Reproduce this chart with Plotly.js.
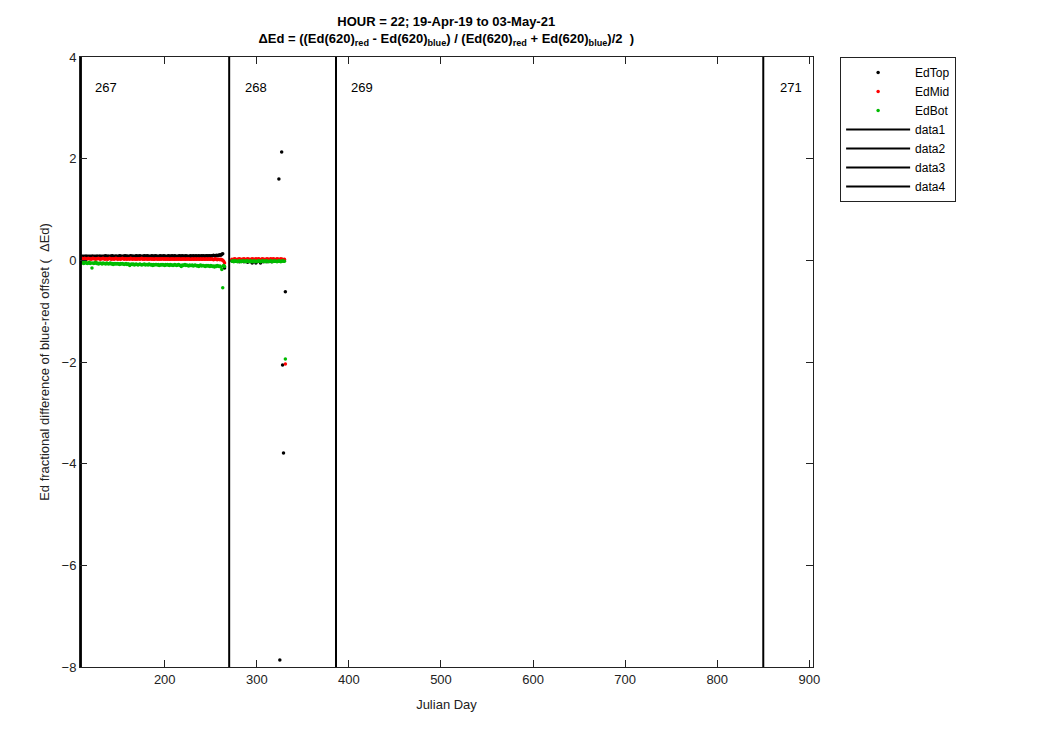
<!DOCTYPE html>
<html>
<head>
<meta charset="utf-8">
<script src="https://cdn.plot.ly/plotly-3.0.1.min.js"></script>
<style>html,body{margin:0;padding:0;background:#fff;}#chart{width:1050px;height:750px;}</style>
</head>
<body>
<div id="chart"></div>
<script>
// Segment 1 days (Julian day)
const days1 = [109,110,111,112,113,114,115,116,117,118,
119,120,121,122,123,124,125,126,127,128,
129,130,131,132,133,134,135,136,137,138,
139,140,141,142,143,144,145,146,147,148,
149,150,151,152,153,154,155,156,157,158,
159,160,161,162,163,164,165,166,167,168,
169,170,171,172,173,174,175,176,177,178,
179,180,181,182,183,184,185,186,187,188,
189,190,191,192,193,194,195,196,197,198,
199,200,201,202,203,204,205,206,207,208,
209,210,211,212,213,214,215,216,217,218,
219,220,221,222,223,224,225,226,227,228,
229,230,231,232,233,234,235,236,237,238,
239,240,241,242,243,244,245,246,247,248,
249,250,251,252,253,254,255,256,257,258,
259,260,261,262,263,264,265];
const days2 = [273,274,275,276,277,278,279,280,281,282,
283,284,285,286,287,288,289,290,291,292,
293,294,295,296,297,298,299,300,301,302,
303,304,305,306,307,308,309,310,311,312,
313,314,315,316,317,318,319,320,321,322,
323,324,325,326,327,328,329,330,331];

const edTop1 = [0.07,0.08,0.07,0.08,0.07,0.08,0.08,0.07,0.08,0.07,
0.08,0.07,0.08,0.08,0.07,0.08,0.07,0.08,0.08,0.07,
0.08,0.08,0.07,0.08,0.07,0.08,0.08,0.09,0.07,0.08,
0.08,0.07,0.08,0.08,0.09,0.08,0.07,0.08,0.08,0.08,
0.07,0.08,0.09,0.08,0.08,0.07,0.08,0.08,0.09,0.08,
0.08,0.08,0.07,0.08,0.09,0.08,0.08,0.08,0.07,0.08,
0.09,0.08,0.08,0.08,0.09,0.08,0.07,0.08,0.08,0.09,
0.08,0.08,0.09,0.08,0.08,0.07,0.08,0.09,0.08,0.08,
0.08,0.09,0.08,0.08,0.07,0.08,0.09,0.08,0.08,0.08,
0.09,0.08,0.08,0.07,0.08,0.09,0.08,0.08,0.08,0.09,
0.08,0.08,0.09,0.08,0.07,0.08,0.08,0.09,0.08,0.08,
0.09,0.08,0.08,0.08,0.09,0.08,0.08,0.07,0.08,0.09,
0.08,0.08,0.09,0.08,0.08,0.09,0.08,0.08,0.09,0.08,
0.08,0.09,0.08,0.09,0.08,0.08,0.09,0.09,0.08,0.09,
0.09,0.08,0.09,0.09,0.10,0.09,0.09,0.10,0.09,0.10,
0.10,0.11,0.10,0.12,0.13,-0.11,-0.15];
const edMid1 = [0.03,0.04,0.03,0.03,0.04,0.03,0.02,0.03,0.04,0.03,
0.03,0.02,0.03,0.04,0.03,0.03,0.02,0.03,0.03,0.04,
0.03,0.02,0.03,0.03,0.04,0.03,0.02,0.03,0.03,0.02,
0.03,0.04,0.03,0.02,0.03,0.03,0.02,0.03,0.04,0.03,
0.02,0.03,0.03,0.02,0.03,0.04,0.03,0.02,0.03,0.03,
0.02,0.03,0.03,0.02,0.04,0.03,0.02,0.03,0.03,0.02,
0.03,0.02,0.03,0.03,0.02,0.03,0.04,0.02,0.03,0.02,
0.03,0.03,0.02,0.03,0.02,0.03,0.03,0.02,0.03,0.02,
0.02,0.03,0.03,0.02,0.03,0.02,0.03,0.02,0.03,0.03,
0.02,0.03,0.02,0.03,0.02,0.03,0.02,0.02,0.03,0.02,
0.03,0.02,0.02,0.03,0.02,0.03,0.02,0.03,0.02,0.02,
0.03,0.02,0.03,0.02,0.02,0.03,0.02,0.03,0.02,0.02,
0.02,0.03,0.02,0.02,0.03,0.02,0.02,0.03,0.02,0.02,
0.03,0.02,0.02,0.03,0.02,0.02,0.03,0.02,0.02,0.03,
0.02,0.02,0.03,0.02,0.01,0.02,0.03,0.02,0.01,0.02,
0.02,0.01,0.02,0.01,0.00,-0.02,-0.05];
const edBot1 = [-0.04,-0.05,-0.04,-0.06,-0.05,-0.04,-0.05,-0.06,-0.05,-0.04,
-0.06,-0.05,-0.15,-0.05,-0.06,-0.05,-0.04,-0.06,-0.05,-0.07,
-0.06,-0.05,-0.06,-0.07,-0.05,-0.06,-0.06,-0.07,-0.05,-0.06,
-0.07,-0.06,-0.05,-0.07,-0.06,-0.08,-0.06,-0.07,-0.06,-0.07,
-0.06,-0.07,-0.08,-0.06,-0.07,-0.06,-0.07,-0.08,-0.07,-0.06,
-0.08,-0.07,-0.07,-0.10,-0.08,-0.07,-0.08,-0.07,-0.09,-0.08,
-0.07,-0.08,-0.09,-0.08,-0.07,-0.08,-0.09,-0.08,-0.08,-0.07,
-0.09,-0.08,-0.08,-0.09,-0.07,-0.08,-0.09,-0.08,-0.10,-0.08,
-0.09,-0.08,-0.08,-0.09,-0.08,-0.10,-0.09,-0.08,-0.09,-0.08,
-0.09,-0.10,-0.08,-0.09,-0.08,-0.09,-0.10,-0.08,-0.09,-0.09,
-0.10,-0.09,-0.08,-0.09,-0.10,-0.09,-0.08,-0.09,-0.10,-0.12,
-0.09,-0.10,-0.09,-0.08,-0.10,-0.09,-0.10,-0.11,-0.09,-0.10,
-0.10,-0.09,-0.11,-0.10,-0.09,-0.10,-0.11,-0.10,-0.12,-0.10,
-0.09,-0.11,-0.10,-0.10,-0.11,-0.12,-0.10,-0.11,-0.10,-0.11,
-0.12,-0.10,-0.11,-0.12,-0.11,-0.13,-0.11,-0.12,-0.10,-0.11,
-0.12,-0.11,-0.13,-0.18,-0.54,-0.10,-0.12];

const edTop2 = [-0.01,-0.02,-0.01,-0.02,-0.01,-0.02,-0.01,-0.02,-0.03,-0.01,
-0.02,-0.01,-0.02,-0.03,-0.02,-0.01,-0.02,-0.04,-0.02,-0.01,
-0.02,-0.03,-0.05,-0.02,-0.01,-0.02,-0.05,-0.03,-0.02,-0.01,
-0.02,-0.05,-0.02,-0.01,-0.03,-0.02,-0.01,-0.02,-0.03,-0.01,
-0.02,-0.01,-0.02,-0.03,-0.01,-0.02,-0.01,-0.02,-0.01,-0.02,
-0.01,1.60,-7.86,-0.02,2.13,-2.06,-3.79,-0.01,-0.62];
const edMid2 = [0.02,0.01,0.02,0.03,0.02,0.01,0.02,0.02,0.03,0.02,
0.01,0.02,0.02,0.03,0.02,0.01,0.02,0.03,0.02,0.02,
0.01,0.02,0.03,0.02,0.02,0.01,0.03,0.02,0.02,0.03,
0.02,0.01,0.02,0.03,0.02,0.02,0.01,0.02,0.03,0.02,
0.02,0.01,0.03,0.02,0.02,0.03,0.02,0.01,0.02,0.03,
0.02,0.02,0.01,0.03,0.02,0.02,0.01,0.02,-2.04];
const edBot2 = [-0.02,-0.01,-0.03,-0.02,-0.01,-0.02,-0.03,-0.02,-0.01,-0.02,
-0.03,-0.02,-0.01,-0.02,-0.02,-0.03,-0.01,-0.02,-0.02,-0.03,
-0.01,-0.02,-0.03,-0.02,-0.01,-0.02,-0.03,-0.02,-0.02,-0.01,
-0.02,-0.03,-0.02,-0.01,-0.02,-0.02,-0.03,-0.01,-0.02,-0.02,
-0.03,-0.02,-0.01,-0.02,-0.03,-0.02,-0.01,-0.02,-0.02,-0.03,
-0.02,-0.01,-0.02,-0.03,-0.02,-0.01,-0.02,-0.02,-1.94];

// Deployment boundary lines and labels
const boundaryDays = [109, 270, 386, 850];
const boundaryNames = ['data1','data2','data3','data4'];
const deployLabels = ['267','268','269','271'];
const deployLabelDays = [122, 285, 400, 866];
const deployLabelY = 3.4;

const xRange = [108, 904];
const yRange = [-8, 4];
const xTicks = [200,300,400,500,600,700,800,900];
const yTicks = [-8,-6,-4,-2,0,2,4];

const FONT = 'Liberation Sans, Arial, Helvetica, sans-serif';

const traces = [];
function dots(name, color, xs, ys) {
  traces.push({type:'scatter', mode:'markers', name:name, x:xs, y:ys,
    marker:{color:color, size:3.5, line:{width:0}}, cliponaxis:true});
}
dots('EdTop', '#000000', days1.concat(days2), edTop1.concat(edTop2));
dots('EdMid', '#ff0000', days1.concat(days2), edMid1.concat(edMid2));
dots('EdBot', '#00bb00', days1.concat(days2), edBot1.concat(edBot2));
boundaryDays.forEach((d, i) => {
  traces.push({type:'scatter', mode:'lines', name:boundaryNames[i],
    x:[d, d], y:[yRange[0], yRange[1]], line:{color:'#000', width:2}});
});

const annotations = deployLabels.map((t, i) => ({
  x: deployLabelDays[i], y: deployLabelY, xref:'x', yref:'y', text:t,
  showarrow:false, xanchor:'left', yanchor:'middle',
  font:{family:FONT, size:13, color:'#000'}
}));

const layout = {
  width:1050, height:750,
  paper_bgcolor:'#fff', plot_bgcolor:'#fff',
  margin:{l:80, r:237, t:57, b:83},
  font:{family:FONT, size:13, color:'#000'},
  title:{
    text:'<b>HOUR = 22; 19-Apr-19 to 03-May-21</b><br><b>ΔEd = ((Ed(620)<sub>red</sub> - Ed(620)<sub>blue</sub>) / (Ed(620)<sub>red</sub> + Ed(620)<sub>blue</sub>)/2  )</b>',
    x:0.425, xanchor:'center', yref:'container', y:0.9653, yanchor:'top',
    font:{family:FONT, size:13, color:'#000'}
  },
  xaxis:{
    range:xRange, tickvals:xTicks, ticks:'inside', ticklen:7, tickcolor:'#222',
    showline:true, linecolor:'#222', linewidth:1, mirror:'ticks',
    showgrid:false, zeroline:false,
    tickfont:{family:FONT, size:13, color:'#222'},
    title:{text:'Julian Day', font:{family:FONT, size:13, color:'#222'}, standoff:14}
  },
  yaxis:{
    range:yRange, tickvals:yTicks, ticks:'inside', ticklen:7, tickcolor:'#222',
    showline:true, linecolor:'#222', linewidth:1, mirror:'ticks',
    showgrid:false, zeroline:false,
    tickfont:{family:FONT, size:13, color:'#222'},
    title:{text:'Ed fractional difference of blue-red offset (  ΔEd)', font:{family:FONT, size:13, color:'#222'}, standoff:9}
  },
  legend:{
    x:1.037, xanchor:'left', y:1, yanchor:'top',
    bgcolor:'#fff', bordercolor:'#222', borderwidth:1,
    font:{family:FONT, size:12, color:'#000'}, itemwidth:64
  },
  showlegend:true,
  annotations:annotations
};

Plotly.newPlot('chart', traces, layout, {displayModeBar:false, staticPlot:true});
</script>
</body>
</html>
